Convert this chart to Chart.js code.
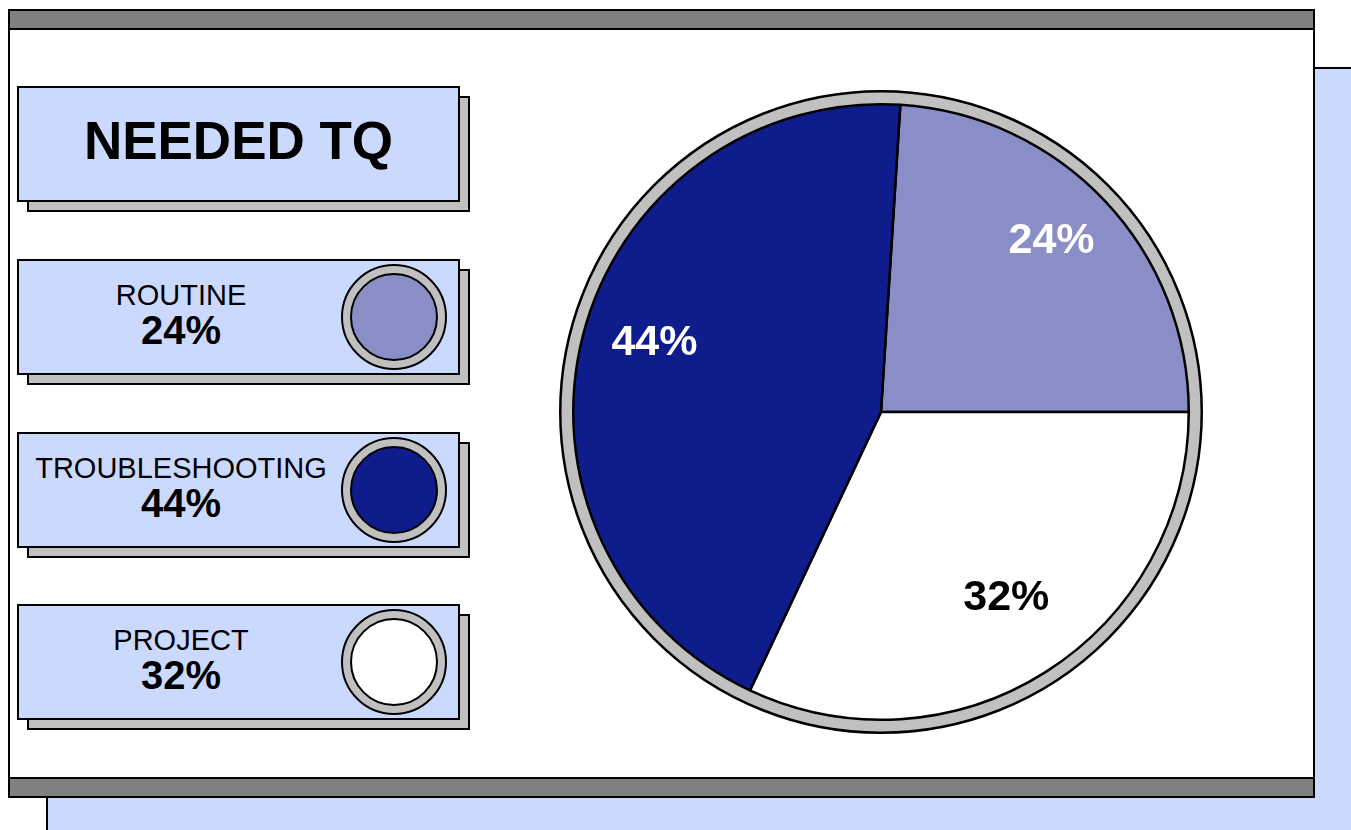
<!DOCTYPE html>
<html>
<head>
<meta charset="utf-8">
<script src="https://cdn.jsdelivr.net/npm/chart.js@4.4.1/dist/chart.umd.min.js"></script>
<style>
  body { margin: 0; width: 1351px; height: 830px; overflow: hidden; background: #fff;
         font-family: "Liberation Sans", Arial, sans-serif; position: relative; }
  .abs { position: absolute; box-sizing: border-box; }
  #back { left: 46px; top: 67px; width: 1310px; height: 780px; background: #ccd9ff; border: 2px solid #000; }
  #panel { left: 8px; top: 9px; width: 1307px; height: 789px; background: #fff; border: 2px solid #000; }
  .bar { left: 8px; width: 1307px; height: 21px; background: #808080; border: 2px solid #000; }
  .shadow { background: #c0c0c0; border: 2px solid #000; }
  .box { background: #ccd9ff; border: 2px solid #000; }
  #title { font-weight: bold; font-size: 53px; display: flex; align-items: center; justify-content: center; padding-bottom: 8px; }
  .txt { text-align: center; line-height: 1; }
  .txt .name { font-size: 29px; }
  .txt .pct { font-size: 40px; font-weight: bold; margin-top: 0px; }
  .ring { border-radius: 50%; border: 2px solid #000; background: #c0c0c0; }
  .dot { border-radius: 50%; border: 2px solid #000; }
  #pieWrap { left: 551px; top: 82px; width: 660px; height: 660px; }
</style>
</head>
<body>
<div class="abs" id="back"></div>
<div class="abs" id="panel"></div>
<div class="abs bar" style="top:9px"></div>
<div class="abs bar" style="top:777px"></div>

<div class="abs shadow" style="left:27px;top:96px;width:443px;height:116px"></div>
<div class="abs box" id="title" style="left:17px;top:86px;width:443px;height:116px">NEEDED TQ</div>

<div id="legend"></div>

<div class="abs" id="pieWrap"><canvas id="pie" width="660" height="660"></canvas></div>

<script>
const categories = ["ROUTINE", "PROJECT", "TROUBLESHOOTING"];
const values = [24, 32, 44];
const colors = ["#898ec7", "#ffffff", "#0f1c8c"];
const labelColors = ["#ffffff", "#000000", "#ffffff"];
const legendOrder = ["ROUTINE", "TROUBLESHOOTING", "PROJECT"];

// legend boxes on the left
const legend = document.getElementById("legend");
legendOrder.forEach((name, i) => {
  const idx = categories.indexOf(name);
  const top = 259 + i * 172.5;
  legend.innerHTML += `
    <div class="abs shadow" style="left:27px;top:${top + 10}px;width:443px;height:116px"></div>
    <div class="abs box" style="left:17px;top:${top}px;width:443px;height:116px"></div>
    <div class="abs txt" style="left:17px;top:${top + 22}px;width:328px">
      <div class="name">${name}</div>
      <div class="pct">${values[idx]}%</div>
    </div>
    <div class="abs ring" style="left:341px;top:${top + 5}px;width:106px;height:106px"></div>
    <div class="abs dot" style="left:350px;top:${top + 14}px;width:88px;height:88px;background:${colors[idx]}"></div>
  `;
});

const ringPlugin = {
  id: "ring",
  beforeDatasetsDraw(chart) {
    const arc = chart.getDatasetMeta(0).data[0];
    const ctx = chart.ctx;
    ctx.save();
    ctx.beginPath();
    ctx.arc(arc.x, arc.y, arc.outerRadius + 13, 0, Math.PI * 2);
    ctx.fillStyle = "#c0c0c0";
    ctx.fill();
    ctx.lineWidth = 2.5;
    ctx.strokeStyle = "#000";
    ctx.stroke();
    ctx.restore();
  },
  afterDatasetsDraw(chart) {
    const ctx = chart.ctx;
    ctx.save();
    ctx.font = "bold 43px 'Liberation Sans', Arial, sans-serif";
    ctx.textAlign = "center";
    ctx.textBaseline = "middle";
    chart.getDatasetMeta(0).data.forEach((arc, i) => {
      const mid = (arc.startAngle + arc.endAngle) / 2;
      const r = arc.outerRadius * 0.76;
      ctx.fillStyle = labelColors[i];
      ctx.fillText(values[i] + "%", arc.x + Math.cos(mid) * r, arc.y + Math.sin(mid) * r - 11);
    });
    ctx.restore();
  }
};

new Chart(document.getElementById("pie"), {
  type: "pie",
  data: {
    labels: categories,
    datasets: [{
      data: values,
      backgroundColor: colors,
      borderColor: "#000",
      borderWidth: 2.5
    }]
  },
  options: {
    responsive: false,
    animation: false,
    rotation: 3.6,
    layout: { padding: 21 },
    plugins: { legend: { display: false }, tooltip: { enabled: false } }
  },
  plugins: [ringPlugin]
});
</script>
</body>
</html>
